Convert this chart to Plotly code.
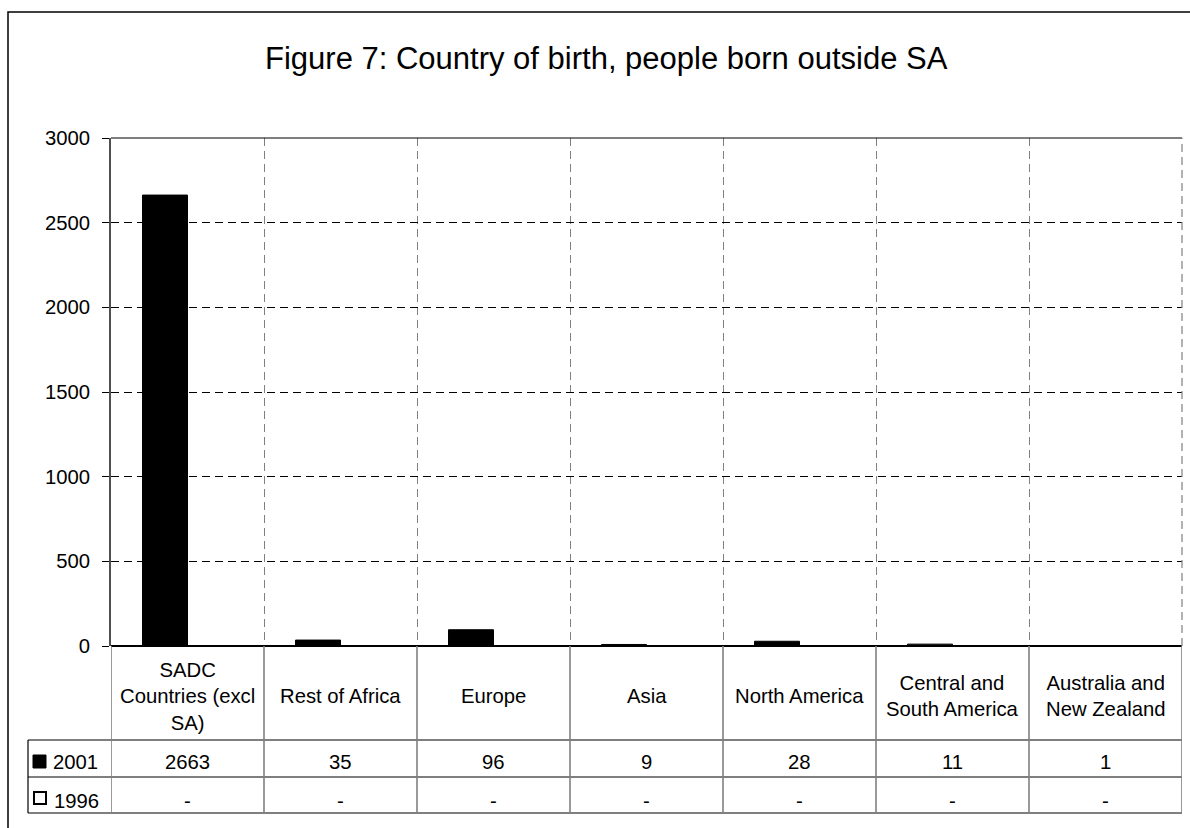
import plotly.graph_objects as go

# Data
categories = [
    "SADC<br>Countries (excl<br>SA)",
    "Rest of Africa",
    "Europe",
    "Asia",
    "North America",
    "Central and<br>South America",
    "Australia and<br>New Zealand",
]
series_names = ["2001", "1996"]
values_2001 = [2663, 35, 96, 9, 28, 11, 1]
values_1996 = [None, None, None, None, None, None, None]
y_ticks = [0, 500, 1000, 1500, 2000, 2500, 3000]
title_text = "Figure 7: Country of birth, people born outside SA"

W, H = 1190, 828
L, R, T, B = 111, 8, 138, 182
PW, PH = W - L - R, H - T - B
FONT = "Liberation Sans, Arial, sans-serif"
FS = 20.3


def px_x(p):
    return (p - L) / PW


def px_y(p):
    return (H - B - p) / PH


n = len(categories)
xs = list(range(n))

fig = go.Figure()
fig.add_trace(go.Bar(x=xs, y=values_2001, name=series_names[0],
                     marker=dict(color="black", line=dict(color="black", width=1))))
fig.add_trace(go.Bar(x=xs, y=values_1996, name=series_names[1],
                     marker=dict(color="white", line=dict(color="black", width=1))))

shapes = []
annotations = []

# outer chart border (runs past the right and bottom edges)
shapes.append(dict(type="rect", xref="paper", yref="paper",
                   x0=px_x(8), x1=px_x(1200), y0=px_y(840), y1=px_y(12),
                   line=dict(color="#000", width=1.5), layer="below"))

# plot frame: top solid, right dashed grey
shapes.append(dict(type="line", xref="paper", yref="paper", x0=0, x1=1, y0=1, y1=1,
                   line=dict(color="#000", width=1.2)))
shapes.append(dict(type="line", xref="paper", yref="paper", x0=1, x1=1, y0=0, y1=1,
                   line=dict(color="#808080", width=1.2, dash="8px,5px")))

# data table grid
row_lines = [740, 777, 813]
for p in row_lines:
    shapes.append(dict(type="line", xref="paper", yref="paper",
                       x0=px_x(28), x1=1, y0=px_y(p), y1=px_y(p),
                       line=dict(color="#000", width=1.2)))
shapes.append(dict(type="line", xref="paper", yref="paper",
                   x0=px_x(28), x1=px_x(28), y0=px_y(740), y1=px_y(813),
                   line=dict(color="#000", width=1.2)))
for i in range(n + 1):
    xb = i - 0.5
    shapes.append(dict(type="line", xref="x", yref="paper",
                       x0=xb, x1=xb, y0=0, y1=px_y(813),
                       line=dict(color="#808080", width=1.6)))

# legend keys in the table
shapes.append(dict(type="rect", xref="paper", yref="paper",
                   x0=px_x(33), x1=px_x(46), y0=px_y(768), y1=px_y(755),
                   fillcolor="black", line=dict(color="black", width=1)))
shapes.append(dict(type="rect", xref="paper", yref="paper",
                   x0=px_x(34), x1=px_x(46), y0=px_y(804), y1=px_y(792),
                   fillcolor="white", line=dict(color="black", width=2)))
annotations.append(dict(xref="paper", yref="paper", x=px_x(51), y=px_y(762),
                        text=series_names[0], showarrow=False, xanchor="left", yanchor="middle",
                        font=dict(size=FS, family=FONT, color="black")))
annotations.append(dict(xref="paper", yref="paper", x=px_x(52), y=px_y(801),
                        text=series_names[1], showarrow=False, xanchor="left", yanchor="middle",
                        font=dict(size=FS, family=FONT, color="black")))

# category labels and table values
for i, cat in enumerate(categories):
    annotations.append(dict(xref="x", yref="paper", x=i, y=px_y(696),
                            text=cat, showarrow=False, xanchor="center", yanchor="middle",
                            font=dict(size=FS, family=FONT, color="black")))
    annotations.append(dict(xref="x", yref="paper", x=i, y=px_y(762),
                            text=str(values_2001[i]), showarrow=False, yanchor="middle",
                            font=dict(size=FS, family=FONT, color="black")))
    v96 = values_1996[i]
    annotations.append(dict(xref="x", yref="paper", x=i, y=px_y(801),
                            text="-" if v96 is None else str(v96), showarrow=False,
                            yanchor="middle",
                            font=dict(size=FS, family=FONT, color="black")))

# title
annotations.append(dict(xref="paper", yref="paper", x=px_x(606), y=px_y(58),
                        text=title_text, showarrow=False, xanchor="center", yanchor="middle",
                        font=dict(size=31, family=FONT, color="black")))

fig.update_layout(
    width=W, height=H,
    margin=dict(l=L, r=R, t=T, b=B, pad=0),
    paper_bgcolor="white", plot_bgcolor="white",
    barmode="group", bargap=0.412, bargroupgap=0,
    showlegend=False,
    font=dict(family=FONT, size=FS, color="black"),
    shapes=shapes, annotations=annotations,
)
fig.update_xaxes(range=[-0.5, n - 0.5], tickvals=[i + 0.5 for i in range(n - 1)],
                 showticklabels=False, ticks="", showgrid=True, gridcolor="#808080",
                 griddash="8px,5px", gridwidth=1.2, zeroline=False, showline=False)
fig.update_yaxes(range=[0, 3000], tickvals=y_ticks, ticks="outside", ticklen=7,
                 tickcolor="#000", tickwidth=1.2, showgrid=True, gridcolor="#000",
                 griddash="8px,5px", gridwidth=1, zeroline=True, zerolinecolor="#000",
                 zerolinewidth=1.5, showline=True, linecolor="#505050", linewidth=1.6,
                 tickfont=dict(size=FS, family=FONT, color="black"), ticklabelstandoff=8)

fig.write_html("out.html")
